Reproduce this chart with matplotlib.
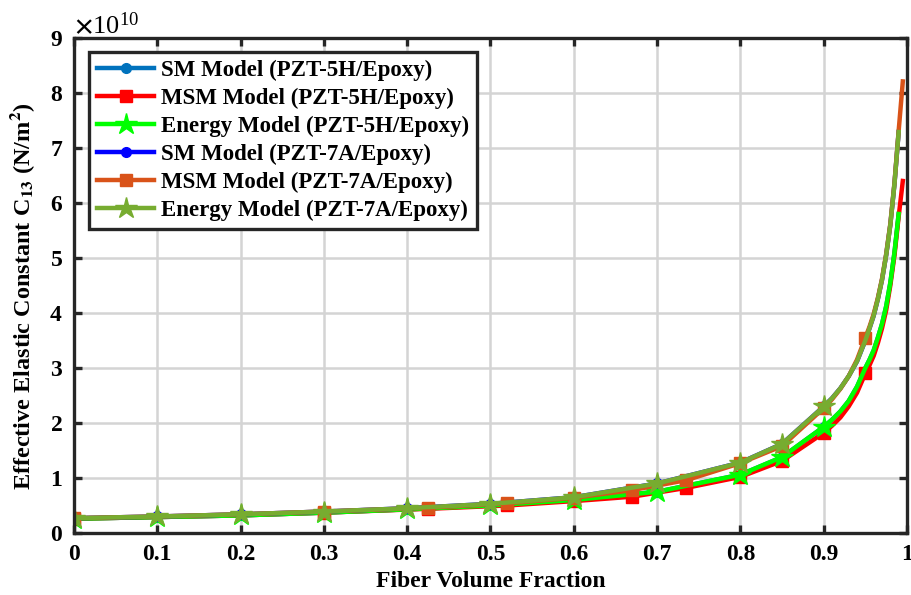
import numpy as np
import matplotlib
matplotlib.use("Agg")
import matplotlib.pyplot as plt
from matplotlib.ticker import ScalarFormatter

plt.rcParams['font.family'] = ['Liberation Serif', 'DejaVu Serif']
plt.rcParams['font.weight'] = 'bold'
plt.rcParams['mathtext.fontset'] = 'stix'

# fiber volume fraction grids (in units of 1e10 N/m^2)
x_energy = [0, 0.1, 0.2, 0.3, 0.4, 0.5, 0.6, 0.7, 0.8, 0.85, 0.9,
            0.91, 0.92, 0.93, 0.94, 0.95, 0.955, 0.96, 0.965, 0.97, 0.975,
            0.98, 0.985, 0.99]
x_msm = [0, 0.1, 0.2, 0.3, 0.425, 0.52, 0.6, 0.67, 0.735, 0.8, 0.85, 0.9,
         0.91, 0.92, 0.93, 0.94, 0.95, 0.955, 0.96, 0.965, 0.97, 0.975,
         0.98, 0.985, 0.99, 0.995]

sm_5h = [0.26, 0.29, 0.32, 0.37, 0.43, 0.50, 0.60, 0.75, 1.06, 1.38, 1.93,
         2.06, 2.21, 2.40, 2.66, 3.00, 3.15, 3.32, 3.55, 3.80, 4.12,
         4.55, 5.10, 5.80]
msm_5h = [0.26, 0.29, 0.32, 0.37, 0.44, 0.50, 0.58, 0.66, 0.82, 1.02, 1.31, 1.82,
          1.95, 2.10, 2.30, 2.55, 2.90, 3.05, 3.22, 3.45, 3.72, 4.05,
          4.50, 5.05, 5.75, 6.40]
energy_5h = [0.26, 0.29, 0.32, 0.37, 0.43, 0.50, 0.60, 0.75, 1.06, 1.38, 1.93,
             2.06, 2.21, 2.40, 2.66, 3.00, 3.15, 3.32, 3.55, 3.80, 4.12,
             4.55, 5.10, 5.80]
sm_7a = [0.27, 0.30, 0.34, 0.39, 0.45, 0.53, 0.65, 0.90, 1.28, 1.62, 2.30,
         2.45, 2.63, 2.85, 3.12, 3.50, 3.72, 3.95, 4.25, 4.60, 5.05,
         5.60, 6.35, 7.29]
msm_7a = [0.27, 0.30, 0.34, 0.39, 0.46, 0.54, 0.64, 0.78, 0.96, 1.27, 1.58, 2.27,
          2.43, 2.62, 2.85, 3.15, 3.55, 3.75, 3.98, 4.27, 4.62, 5.07,
          5.62, 6.37, 7.31, 8.21]
energy_7a = [0.27, 0.30, 0.34, 0.39, 0.45, 0.53, 0.65, 0.90, 1.28, 1.62, 2.30,
             2.45, 2.63, 2.85, 3.12, 3.50, 3.72, 3.95, 4.25, 4.60, 5.05,
             5.60, 6.35, 7.29]

energy_marks = list(range(11))            # 0, 0.1, ... 0.9
msm_marks = [0, 3, 4, 5, 6, 7, 8, 9, 10, 11, 16]

scale = 1e10

fig = plt.figure(figsize=(9.12, 5.95), dpi=100)
ax = fig.add_axes([0.0811, 0.1042, 0.9134, 0.832])

lw = 3.2
ax.plot(x_energy, np.array(sm_5h) * scale, color='#0072BD', lw=lw, marker='o', ms=7,
        markevery=energy_marks, label='SM Model (PZT-5H/Epoxy)')
ax.plot(x_msm, np.array(msm_5h) * scale, color='#FF0000', lw=lw, marker='s', ms=8,
        markevery=msm_marks, label='MSM Model (PZT-5H/Epoxy)')
ax.plot(x_energy, np.array(energy_5h) * scale, color='#00FF00', lw=lw, marker='*', ms=16,
        markevery=energy_marks, label='Energy Model (PZT-5H/Epoxy)')
ax.plot(x_energy, np.array(sm_7a) * scale, color='#0000FF', lw=lw, marker='o', ms=7,
        markevery=energy_marks, label='SM Model (PZT-7A/Epoxy)')
ax.plot(x_msm, np.array(msm_7a) * scale, color='#D95319', lw=lw, marker='s', ms=8,
        markevery=msm_marks, label='MSM Model (PZT-7A/Epoxy)')
ax.plot(x_energy, np.array(energy_7a) * scale, color='#77AC30', lw=lw, marker='*', ms=16,
        markevery=energy_marks, label='Energy Model (PZT-7A/Epoxy)')

ax.set_xlim(0, 1)
ax.set_ylim(0, 9e10)
ax.set_xticks(np.arange(0, 1.01, 0.1))
ax.set_xticklabels(['0', '0.1', '0.2', '0.3', '0.4', '0.5', '0.6', '0.7', '0.8', '0.9', '1'])
ax.set_yticks(np.arange(0, 9.5e10, 1e10))

fmt = ScalarFormatter(useMathText=True)
fmt.set_powerlimits((0, 0))
ax.yaxis.set_major_formatter(fmt)
ax.yaxis.offsetText.set_fontsize(19)
ax.yaxis.offsetText.set_fontweight('normal')

ax.grid(True, color='#d4d4d4', lw=1.8)
ax.set_axisbelow(True)
for s in ax.spines.values():
    s.set_linewidth(2.4)
    s.set_color('#262626')
ax.tick_params(direction='in', length=6, width=2.4, color='#262626',
               top=True, right=True, labelsize=17, pad=8)

ax.set_xlabel('Fiber Volume Fraction', fontsize=17, fontweight='bold', labelpad=4)
ax.set_ylabel(r'Effective Elastic Constant C$_{\mathbf{13}}$ (N/m$^{\mathbf{2}}$)',
              fontsize=17.5, fontweight='bold')
ax.yaxis.set_label_coords(-0.044, 0.478)

leg = ax.legend(loc='upper left', bbox_to_anchor=(0.018, 0.972), borderaxespad=0,
                handlelength=2.5, labelspacing=0.3, handletextpad=0.3,
                borderpad=0.35, fancybox=False, framealpha=1, edgecolor='#262626',
                prop={'weight': 'bold', 'size': 16.5})
leg.get_frame().set_linewidth(2.4)

fig.savefig('out.png', dpi=100)
